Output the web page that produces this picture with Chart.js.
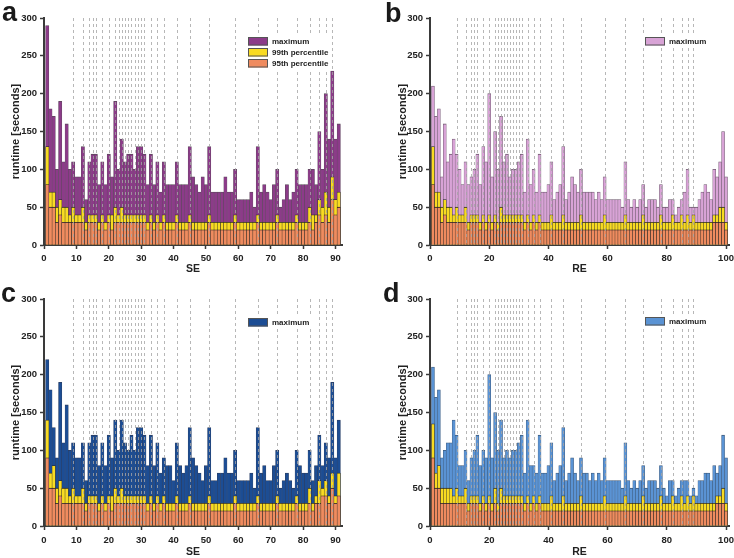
<!DOCTYPE html>
<html>
<head>
<meta charset="utf-8">
<script src="https://cdn.jsdelivr.net/npm/chart.js@4.4.1/dist/chart.umd.min.js"></script>
<style>
  body { margin: 0; background: #fff; }
  #wrap { position: relative; width: 734px; height: 558px; overflow: hidden; font-family: "Liberation Sans", Arial, sans-serif; }
  canvas { position: absolute; }
  .tag { position: absolute; font-weight: bold; font-size: 27px; line-height: 1; color: #1a1a1a; }
</style>
</head>
<body>
<div id="wrap">
  <canvas id="a" width="367" height="279" style="left:0;top:0"></canvas>
  <canvas id="b" width="367" height="279" style="left:367px;top:0"></canvas>
  <canvas id="c" width="367" height="279" style="left:0;top:279px"></canvas>
  <canvas id="d" width="367" height="279" style="left:367px;top:279px"></canvas>
  <div class="tag" style="left:2px;top:-1px">a</div>
  <div class="tag" style="left:385px;top:0">b</div>
  <div class="tag" style="left:1px;top:280px">c</div>
  <div class="tag" style="left:383px;top:280px">d</div>
</div>
<script>
// tick labels
const seTicks = [0, 10, 20, 30, 40, 50, 60, 70, 80, 90];
const reTicks = [0, 20, 40, 60, 80, 100];
const yTicks = [0, 50, 100, 150, 200, 250, 300];
// positions of the dashed reference lines
const markers = [9, 12, 14, 15, 16, 18, 20, 22, 23, 24, 25, 26, 27, 28, 29, 30, 31, 33, 35, 37, 41, 45, 51, 59, 66, 72, 78, 82, 85, 87, 89];

// a: SE (purple)
const maxA = [290,180,170,100,190,110,160,100,110,90, 90,130,60,110,120,120,80,110,80,120,
  90,190,100,140,110,120,120,100,130,130, 120,80,120,80,110,70,110,80,80,80,
  110,80,80,80,130,90,80,70,90,80, 130,70,70,70,70,90,70,70,100,60,
  60,60,60,70,50,130,70,80,70,60, 80,100,50,60,80,60,70,100,80,80,
  80,100,100,80,150,100,200,140,230,140, 160];
const p99A = [130,70,70,50,60,50,50,40,50,40, 40,50,30,40,40,40,30,40,30,40,
  40,50,40,50,40,40,40,40,40,40, 40,30,40,30,40,30,40,30,30,30,
  40,30,30,30,40,30,30,30,30,30, 40,30,30,30,30,30,30,30,40,30,
  30,30,30,30,30,40,30,30,30,30, 30,40,30,30,30,30,30,40,30,30,
  30,50,40,40,60,50,70,50,90,60, 70];
const p95A = [80,50,50,30,40,30,30,30,30,30, 30,30,20,30,30,30,20,30,20,30,
  20,30,30,30,30,30,30,30,30,30, 30,20,30,20,30,20,30,20,20,20,
  30,20,20,20,30,20,20,20,20,20, 30,20,20,20,20,20,20,20,30,20,
  20,20,20,20,20,30,20,20,20,20, 20,30,20,20,20,20,20,30,20,20,
  20,30,20,30,40,30,40,30,60,40, 50];

// b: RE (pink)
const maxB = [210,170,180,90,160,110,120,140,120,100, 80,110,80,90,100,120,80,130,110,200,
  90,150,100,170,110,120,90,100,100,110, 120,70,140,80,100,70,120,70,70,80,
  110,60,70,80,130,60,70,90,80,70, 100,70,70,70,70,60,70,60,90,60,
  60,60,60,60,50,110,60,50,60,50, 60,80,50,60,60,60,50,80,50,50,
  60,60,40,50,60,70,100,50,50,50, 60,70,80,70,60,100,90,110,150,90];
const p99B = [130,70,70,50,60,50,50,40,50,40, 40,50,30,40,40,40,30,40,30,40,
  30,40,30,50,40,40,40,40,40,40, 40,30,40,30,40,30,40,30,30,30,
  40,30,30,30,40,30,30,30,30,30, 40,30,30,30,30,30,30,30,40,30,
  30,30,30,30,30,40,30,30,30,30, 30,40,30,30,30,30,30,40,30,30,
  30,40,30,30,40,30,40,30,40,30, 30,30,30,30,30,40,40,50,50,30];
const p95B = [80,50,50,30,40,30,30,30,30,30, 30,30,20,30,30,30,20,30,20,30,
  20,30,20,30,30,30,30,30,30,30, 30,20,30,20,30,20,30,20,20,20,
  20,20,20,20,20,20,20,20,20,20, 20,20,20,20,20,20,20,20,20,20,
  20,20,20,20,20,20,20,20,20,20, 20,20,20,20,20,20,20,20,20,20,
  20,20,20,20,20,20,20,20,20,20, 20,20,20,20,20,30,30,30,30,20];

// c: SE (navy)
const maxC = [220,180,130,90,190,110,160,100,110,90, 90,110,60,110,120,120,80,110,80,120,
  90,140,100,140,110,100,120,100,130,130, 120,80,120,80,110,70,90,80,80,60,
  110,80,70,80,130,90,80,70,60,80, 130,60,60,70,70,90,70,70,100,60,
  60,60,60,70,50,130,70,80,60,60, 80,100,50,60,70,60,50,100,80,70,
  70,100,60,80,120,80,110,90,190,90, 140];
const p99C = [140,70,80,50,60,50,50,40,50,40, 40,50,30,40,40,40,30,40,30,40,
  40,50,40,50,40,40,40,40,40,40, 40,30,40,30,40,30,40,30,30,30,
  40,30,30,30,40,30,30,30,30,30, 40,30,30,30,30,30,30,30,40,30,
  30,30,30,30,30,40,30,30,30,30, 30,40,30,30,30,30,30,40,30,30,
  30,50,30,40,60,50,60,40,70,40, 70];
const p95C = [90,50,50,30,40,30,30,30,30,30, 30,30,20,30,30,30,20,30,20,30,
  20,30,30,30,30,30,30,30,30,30, 30,20,30,20,30,20,30,20,20,20,
  30,20,20,20,30,20,20,20,20,20, 30,20,20,20,20,20,20,20,30,20,
  20,20,20,20,20,30,20,20,20,20, 20,30,20,20,20,20,20,30,20,20,
  20,30,20,30,30,40,40,30,50,30, 40];

// d: RE (light blue)
const maxD = [210,170,180,90,100,110,110,140,120,80, 80,100,60,90,100,120,80,100,90,200,
  90,150,100,140,90,100,90,100,100,110, 120,70,140,80,80,70,120,70,70,80,
  110,60,70,80,130,60,70,90,70,60, 90,70,70,60,70,60,70,60,90,60,
  60,60,60,60,50,110,60,50,60,50, 60,80,50,60,60,60,50,80,50,40,
  60,60,40,50,60,60,60,40,50,40, 60,60,70,70,60,80,70,80,120,90];
const p99D = [135,70,80,50,50,50,50,40,50,40, 40,50,30,40,40,40,30,40,30,40,
  30,50,30,50,40,40,40,40,40,40, 40,30,40,30,40,30,40,30,30,30,
  40,30,30,30,40,30,30,30,30,30, 40,30,30,30,30,30,30,30,40,30,
  30,30,30,30,30,40,30,30,30,30, 30,40,30,30,30,30,30,40,30,30,
  30,40,30,30,40,30,40,30,40,30, 30,30,30,30,30,30,40,40,50,30];
const p95D = [90,50,50,30,30,30,30,30,30,30, 30,30,20,30,30,30,20,30,20,30,
  20,30,20,30,30,30,30,30,30,30, 30,20,30,20,30,20,30,20,20,20,
  20,20,20,20,20,20,20,20,20,20, 20,20,20,20,20,20,20,20,20,20,
  20,20,20,20,20,20,20,20,20,20, 20,20,20,20,20,20,20,20,20,20,
  20,20,20,20,20,20,20,20,20,20, 20,20,20,20,20,20,30,30,30,20];

const FONT = '"Liberation Sans", Arial, sans-serif';
const AXIS = '#3a3a3a';
const ORANGE = '#EF8B5F', YELLOW = '#F8DB22';

function markerLines(vals){
  return {
    id: 'markerLines',
    afterDatasetsDraw(chart){
      const {ctx, chartArea, scales} = chart;
      ctx.save();
      ctx.strokeStyle = 'rgba(165,165,165,0.8)';
      ctx.lineWidth = 1;
      ctx.setLineDash([3, 3]);
      vals.forEach(v => {
        const px = Math.round(scales.x.getPixelForValue(v)) + 0.5;
        ctx.beginPath(); ctx.moveTo(px, chartArea.top); ctx.lineTo(px, chartArea.bottom - 1); ctx.stroke();
      });
      ctx.restore();
    }
  };
}

function boxLegend(items, x, y){
  return {
    id: 'boxLegend',
    afterDraw(chart){
      const ctx = chart.ctx;
      ctx.save();
      ctx.font = 'bold 8px ' + FONT;
      const w = Math.max(...items.map(it => ctx.measureText(it.label).width));
      ctx.fillStyle = '#fff';
      ctx.fillRect(x - 2, y - 2, 28 + w, items.length * 11 + 1);
      items.forEach((it, i) => {
        const yy = y + i * 11;
        ctx.fillStyle = it.color;
        ctx.fillRect(x, yy, 20, 8.5);
        ctx.strokeStyle = '#555'; ctx.lineWidth = 1;
        ctx.strokeRect(x + 0.5, yy + 0.5, 19, 7.5);
        ctx.fillStyle = '#222'; ctx.textBaseline = 'middle';
        ctx.fillText(it.label, x + 24, yy + 4.5);
      });
      ctx.restore();
    }
  };
}

function panel(id, o){
  const xy = arr => arr.map((v, i) => ({x: i + 1, y: v}));
  const bar = (label, arr, color, edge) => ({
    label, data: xy(arr), backgroundColor: color, borderColor: edge,
    borderWidth: {top: 0.8, left: 0.5, right: 0.5, bottom: 0},
    grouped: false, barPercentage: 1, categoryPercentage: 1
  });
  new Chart(document.getElementById(id), {
    type: 'bar',
    data: { datasets: [
      bar('95th percentile', o.p95, ORANGE, '#222'),
      bar('99th percentile', o.p99, YELLOW, '#2a2a2a'),
      bar('maximum', o.max, o.color, o.edge)
    ]},
    options: {
      responsive: false, animation: false, devicePixelRatio: 1,
      layout: { padding: o.pad },
      plugins: { legend: {display: false}, tooltip: {enabled: false} },
      scales: {
        x: {
          type: 'linear', min: 0, max: o.xMax, offset: false,
          afterBuildTicks: s => { s.ticks = o.xTicks.map(v => ({value: v})); },
          afterFit: s => { s.height = o.xH; s.paddingLeft = 0; s.paddingRight = 0; },
          grid: { offset: false, drawOnChartArea: false, tickLength: 4, tickColor: AXIS, tickWidth: 1.5 },
          border: { color: AXIS, width: 2 },
          ticks: { padding: o.xTickPad, color: '#222', maxRotation: 0, autoSkip: false,
                   font: {family: FONT, size: 9.5, weight: 'bold'} },
          title: { display: true, text: o.xTitle, color: '#222', padding: {top: 0, bottom: o.xTitlePad},
                   font: {family: FONT, size: 10.5, weight: 'bold'} }
        },
        y: {
          min: 0, max: 300,
          afterBuildTicks: s => { s.ticks = yTicks.map(v => ({value: v})); },
          afterFit: s => { s.width = o.yW; s.paddingTop = 0; s.paddingBottom = 0; },
          grid: { drawOnChartArea: false, tickLength: 4, tickColor: AXIS, tickWidth: 1.5 },
          border: { color: AXIS, width: 2 },
          ticks: { padding: 3, color: '#222', font: {family: FONT, size: 9.5, weight: 'bold'} },
          title: { display: true, text: 'runtime [seconds]', color: '#222', padding: {top: o.yTitlePad, bottom: 0},
                   font: {family: FONT, size: 11, weight: 'bold'} }
        }
      }
    },
    plugins: [markerLines(markers), boxLegend(o.legend, o.legX, o.legY)]
  });
}

const pctLegend = [{label: '99th percentile', color: YELLOW}, {label: '95th percentile', color: ORANGE}];

panel('a', { max: maxA, p99: p99A, p95: p95A, color: '#8C3B89', edge: '#5a4a5a',
  xMax: 92, xTicks: seTicks, xTitle: 'SE', pad: {left: 0, top: 18, right: 25, bottom: 4},
  yW: 44, xH: 30, xTickPad: 4, xTitlePad: 0, yTitlePad: 9,
  legend: [{label: 'maximum', color: '#8C3B89'}].concat(pctLegend), legX: 248, legY: 37 });

panel('b', { max: maxB, p99: p99B, p95: p95B, color: '#D8A3D6', edge: '#6e5a6e',
  xMax: 101, xTicks: reTicks, xTitle: 'RE', pad: {left: 20, top: 18, right: 5, bottom: 4},
  yW: 43, xH: 30, xTickPad: 4, xTitlePad: 0, yTitlePad: 9,
  legend: [{label: 'maximum', color: '#D8A3D6'}], legX: 278, legY: 37 });

panel('c', { max: maxC, p99: p99C, p95: p95C, color: '#1C4D94', edge: '#2e3e5e',
  xMax: 92, xTicks: seTicks, xTitle: 'SE', pad: {left: 0, top: 20, right: 25, bottom: 0},
  yW: 44, xH: 32, xTickPad: 5, xTitlePad: 0, yTitlePad: 9,
  legend: [{label: 'maximum', color: '#1C4D94'}], legX: 248, legY: 39 });

panel('d', { max: maxD, p99: p99D, p95: p95D, color: '#5A93D4', edge: '#3e5a7a',
  xMax: 101, xTicks: reTicks, xTitle: 'RE', pad: {left: 20, top: 20, right: 5, bottom: 0},
  yW: 43, xH: 32, xTickPad: 5, xTitlePad: 0, yTitlePad: 9,
  legend: [{label: 'maximum', color: '#5A93D4'}], legX: 278, legY: 38 });
</script>
</body>
</html>
